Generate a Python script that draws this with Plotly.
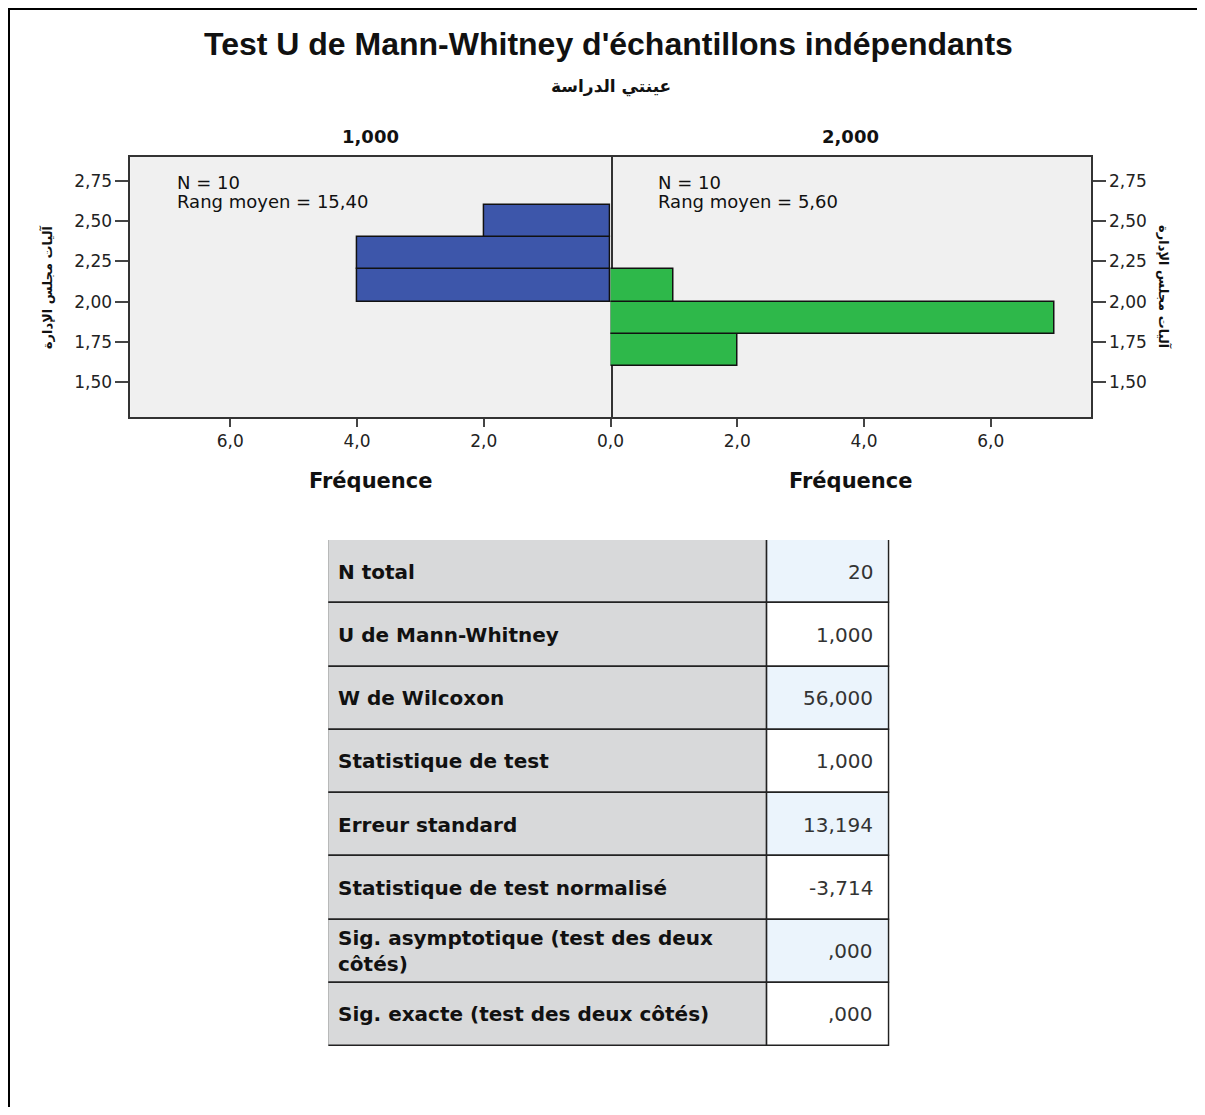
import plotly.graph_objects as go

# page layout: body margin offset, horizontal capture factor
OFF = 8
K = 1220 / 1205
W, H = 1220 - 2 * OFF, 1115 - 2 * OFF

# ---------------- data ----------------
title_text = "Test U de Mann-Whitney d'échantillons indépendants"
group_title = "عينتي الدراسة"
y_title = "آليات مجلس الإدارة"
groups = ["1,000", "2,000"]
group_n = [10, 10]
group_mean_rank = ["15,40", "5,60"]

bin_width = 0.2
g1_bins = [2.1, 2.3, 2.5]
g1_counts = [4, 4, 2]
g2_bins = [1.7, 1.9, 2.1]
g2_counts = [2, 7, 1]

y_ticks = [1.50, 1.75, 2.00, 2.25, 2.50, 2.75]
y_ticklabels = ["1,50", "1,75", "2,00", "2,25", "2,50", "2,75"]
x_ticks = [0, 2, 4, 6]
x_ticklabels = ["0,0", "2,0", "4,0", "6,0"]

table_labels = ["N total", "U de Mann-Whitney", "W de Wilcoxon", "Statistique de test",
                "Erreur standard", "Statistique de test normalisé",
                "Sig. asymptotique (test des deux<br>côtés)", "Sig. exacte (test des deux côtés)"]
table_values = ["20", "1,000", "56,000", "1,000", "13,194", "-3,714", ",000", ",000"]

# ---------------- style ----------------
BLUE = "#3d56aa"
GREEN = "#2eb84a"
GRAY = "#d8d9da"
LBLUE = "#ebf4fc"
FONT = "DejaVu Sans"
LINE = "#333333"


def px(x):
    return (x * K - OFF) / W


def py(y):
    return 1 - (y - OFF) / H


fig = go.Figure()

fig.add_trace(go.Bar(y=g1_bins, x=g1_counts, orientation="h", width=bin_width,
                     marker=dict(color=BLUE, line=dict(color="#111", width=1.5)),
                     xaxis="x", yaxis="y", showlegend=False, hoverinfo="x+y"))
fig.add_trace(go.Bar(y=g2_bins, x=g2_counts, orientation="h", width=bin_width,
                     marker=dict(color=GREEN, line=dict(color="#111", width=1.5)),
                     xaxis="x2", yaxis="y2", showlegend=False, hoverinfo="x+y"))

y_range = [1.282, 2.899]
x_max = 7.58
axis_common = dict(showline=True, linecolor=LINE, linewidth=1.5,
                   ticks="outside", tickcolor="#444", tickwidth=1.5,
                   showgrid=False, zeroline=False,
                   tickfont=dict(family=FONT, size=17, color="#222"))

# ---------------- table geometry (as an auxiliary bar layout) ----------------
n_rows = len(table_labels)
rows = list(range(n_rows))
label_frac = 439 / 561
label_fill = [GRAY] * n_rows
val_fill = [LBLUE if i % 2 == 0 else "white" for i in range(n_rows)]

fig.add_trace(go.Bar(y=rows, x=[label_frac] * n_rows, base=0, orientation="h", width=1,
                     marker=dict(color=label_fill, line=dict(color="#222", width=1.5)),
                     xaxis="x3", yaxis="y3", showlegend=False, hoverinfo="skip"))
fig.add_trace(go.Bar(y=rows, x=[1 - label_frac] * n_rows, base=label_frac, orientation="h", width=1,
                     marker=dict(color=val_fill, line=dict(color="#222", width=1.5)),
                     xaxis="x3", yaxis="y3", showlegend=False, hoverinfo="skip"))

fig.update_layout(
    width=W, height=H,
    margin=dict(l=0, r=0, t=0, b=0),
    paper_bgcolor="white", plot_bgcolor="#f0f0f0",
    bargap=0, barmode="overlay",
    xaxis=dict(domain=[px(130), px(610)], anchor="y", range=[x_max, 0], mirror=True, ticklen=8,
               tickvals=x_ticks, ticktext=x_ticklabels, **axis_common),
    xaxis2=dict(domain=[px(610), px(1090)], anchor="y2", range=[0, x_max], mirror=True, ticklen=8,
                tickvals=x_ticks, ticktext=[""] + x_ticklabels[1:], **axis_common),
    yaxis=dict(domain=[py(417), py(157)], anchor="x", range=y_range, side="left", mirror=True,
               ticklen=13, tickvals=y_ticks, ticktext=y_ticklabels, **axis_common),
    yaxis2=dict(domain=[py(417), py(157)], anchor="x2", range=y_range, side="right", mirror=False,
                ticklen=13, tickvals=y_ticks, ticktext=y_ticklabels, **axis_common),
    xaxis3=dict(domain=[px(328), px(889)], anchor="y3", range=[0, 1], visible=False, fixedrange=True),
    yaxis3=dict(domain=[py(1046), py(540)], anchor="x3", range=[n_rows - 0.5, -0.5],
                visible=False, fixedrange=True),
)

ann = []
ann.append(dict(x=px(608), y=py(44), text="<b>" + title_text + "</b>", showarrow=False,
                xref="paper", yref="paper", xanchor="center", yanchor="middle",
                font=dict(family="Liberation Sans", size=32, color="#111")))
ann.append(dict(x=px(610), y=py(86), text="<b>" + group_title + "</b>", showarrow=False,
                xref="paper", yref="paper", xanchor="center", yanchor="middle",
                font=dict(family=FONT, size=17, color="#111")))
centers = [370, 850]
for i, g in enumerate(groups):
    ann.append(dict(x=px(centers[i]), y=py(137), text="<b>" + g + "</b>", showarrow=False,
                    xref="paper", yref="paper", xanchor="center", yanchor="middle",
                    font=dict(family=FONT, size=18, color="#111")))
    ann.append(dict(x=px(centers[i]), y=py(481), text="<b>Fréquence</b>", showarrow=False,
                    xref="paper", yref="paper", xanchor="center", yanchor="middle",
                    font=dict(family=FONT, size=21, color="#111")))
    left = [175, 655][i]
    ann.append(dict(x=px(left), y=py(182), text=f"N = {group_n[i]}",
                    showarrow=False, xref="paper", yref="paper", xanchor="left", yanchor="middle",
                    font=dict(family=FONT, size=18, color="#111")))
    ann.append(dict(x=px(left), y=py(201), text=f"Rang moyen = {group_mean_rank[i]}",
                    showarrow=False, xref="paper", yref="paper", xanchor="left", yanchor="middle",
                    font=dict(family=FONT, size=18, color="#111")))
ann.append(dict(x=px(47), y=py(287), text="<b>" + y_title + "</b>", showarrow=False,
                xref="paper", yref="paper", textangle=-90, xanchor="center", yanchor="middle",
                font=dict(family=FONT, size=13, color="#111")))
ann.append(dict(x=px(1163), y=py(287), text="<b>" + y_title + "</b>", showarrow=False,
                xref="paper", yref="paper", textangle=90, xanchor="center", yanchor="middle",
                font=dict(family=FONT, size=13, color="#111")))

# table texts
for r in rows:
    ann.append(dict(x=0, y=r, xref="x3", yref="y3", text="<b>" + table_labels[r] + "</b>",
                    showarrow=False, xanchor="left", yanchor="middle", xshift=8, align="left",
                    font=dict(family=FONT, size=20, color="#111")))
    ann.append(dict(x=1, y=r, xref="x3", yref="y3", text=table_values[r],
                    showarrow=False, xanchor="right", yanchor="middle", xshift=-15,
                    font=dict(family=FONT, size=20, color="#333")))
fig.update_layout(annotations=ann)

# outer frame lines (top and left edge)
fig.update_layout(shapes=[
    dict(type="line", xref="paper", yref="paper", x0=0, x1=1, y0=1, y1=1,
         line=dict(color="black", width=4)),
    dict(type="line", xref="paper", yref="paper", x0=0, x1=0, y0=1, y1=0,
         line=dict(color="black", width=4)),
])

fig.write_html("out.html")
